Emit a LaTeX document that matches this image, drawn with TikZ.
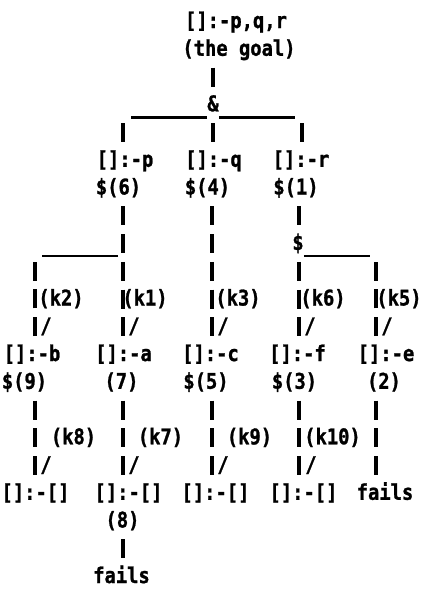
\documentclass[tikz,border=0pt]{standalone}
\usepackage{fontspec}
\usepackage{graphicx}
\newfontfamily\dmfont[BoldFeatures={FakeBold=1.2}]{DejaVu Sans Mono}
% printer-like text: heavy mono, slightly stretched vertically
\newcommand\dm[1]{\scalebox{1}[1.15]{\dmfont\bfseries\fontsize{18.8pt}{20pt}\selectfont #1}}
\tikzset{
  lbl/.style={inner sep=0pt, text height=20.375pt, text depth=7.375pt},
  bar/.style={line width=3.2pt, dash pattern=on 19pt off 8.75pt, dash phase=23.375pt},
  under/.style={line width=2.8pt},
}
\begin{document}
\begin{tikzpicture}[x=1pt,y=-1pt]
\fill[white] (0,0) rectangle (422,600);
\useasboundingbox (0,0) rectangle (422,600);

% columns of the vertical links
\coordinate (colQ) at (213,0);
\coordinate (colP) at (123,0);
\coordinate (colR) at (302,0);
\coordinate (colB) at (35,0);
\coordinate (colA) at (123,0);
\coordinate (colC) at (212,0);
\coordinate (colF) at (299,0);
\coordinate (colE) at (376,0);

% goal
\node[lbl] (goal) at (236,21.5) {\dm{[]:-p,q,r}};
\node[lbl] (goalnote) at (239,49.25) {\dm{(the goal)}};
\node[lbl] (and) at (213,104.75) {\dm{\&}};

% first level subgoals
\node[lbl] (p) at (125,160.25) {\dm{[]:-p}};
\node[lbl] (pmark) at (118.5,188) {\dm{\$(6)}};
\node[lbl] (q) at (213.5,160.25) {\dm{[]:-q}};
\node[lbl] (qmark) at (207.5,188) {\dm{\$(4)}};
\node[lbl] (r) at (301,160.25) {\dm{[]:-r}};
\node[lbl] (rmark) at (296,188) {\dm{\$(1)}};
\coordinate (psplit) at (123,243.5);
\node[lbl] (rsplit) at (298,243.5) {\dm{\$}};

% clause labels
\node[lbl] (k2) at (61,299) {\dm{(k2)}};
\node[lbl] (k1) at (145,299) {\dm{(k1)}};
\node[lbl] (k3) at (238,299) {\dm{(k3)}};
\node[lbl] (k6) at (323,299) {\dm{(k6)}};
\node[lbl] (k5) at (399,299) {\dm{(k5)}};
\node[lbl] (s1) at (46,326.75) {\dm{/}};
\node[lbl] (s2) at (134,326.75) {\dm{/}};
\node[lbl] (s3) at (223,326.75) {\dm{/}};
\node[lbl] (s4) at (310,326.75) {\dm{/}};
\node[lbl] (s5) at (387,326.75) {\dm{/}};

% second level
\node[lbl] (b) at (32,354.5) {\dm{[]:-b}};
\node[lbl] (bmark) at (24.5,382.25) {\dm{\$(9)}};
\node[lbl] (a) at (123.5,354.5) {\dm{[]:-a}};
\node[lbl] (amark) at (121.5,382.25) {\dm{(7)}};
\node[lbl] (c) at (210.5,354.5) {\dm{[]:-c}};
\node[lbl] (cmark) at (206,382.25) {\dm{\$(5)}};
\node[lbl] (f) at (297.5,354.5) {\dm{[]:-f}};
\node[lbl] (fmark) at (294.5,382.25) {\dm{\$(3)}};
\node[lbl] (e) at (386,354.5) {\dm{[]:-e}};
\node[lbl] (emark) at (384,382.25) {\dm{(2)}};

\node[lbl] (k8) at (73.5,437.75) {\dm{(k8)}};
\node[lbl] (k7) at (160.5,437.75) {\dm{(k7)}};
\node[lbl] (k9) at (249.5,437.75) {\dm{(k9)}};
\node[lbl] (k10) at (332.5,437.75) {\dm{(k10)}};
\node[lbl] (t1) at (46,465.5) {\dm{/}};
\node[lbl] (t2) at (134,465.5) {\dm{/}};
\node[lbl] (t3) at (223,465.5) {\dm{/}};
\node[lbl] (t4) at (311,465.5) {\dm{/}};

% leaves
\node[lbl] (bdone) at (35.5,493.25) {\dm{[]:-[]}};
\node[lbl] (adone) at (128.5,493.25) {\dm{[]:-[]}};
\node[lbl] (cdone) at (215.5,493.25) {\dm{[]:-[]}};
\node[lbl] (fdone) at (303.5,493.25) {\dm{[]:-[]}};
\node[lbl] (efail) at (385,493.25) {\dm{fails}};
\node[lbl] (amark2) at (122.5,521) {\dm{(8)}};
\node[lbl] (afail) at (121.5,576.5) {\dm{fails}};

% links from the goal
\draw[bar] (goalnote.south -| and) -- (and.north);
\draw[under] ([yshift=-12.5pt]and.west) -- ++(-76,0);
\draw[under] ([yshift=-12.5pt]and.east) -- ++(76,0);
\draw[bar] (p.north -| colP) -- ++(0,-27.75);
\draw[bar] (and.south -| colQ) -- (q.north -| colQ);
\draw[bar] (r.north -| colR) -- ++(0,-27.75);

% links to the second level
\draw[bar] (pmark.south -| colA) -- (a.north -| colA);
\draw[under] ([yshift=-12.5pt]psplit) ++(-5,0) -- ++(-76,0);
\draw[bar] (b.north -| colB) -- ++(0,-83.25);
\draw[bar] (qmark.south -| colC) -- (c.north -| colC);
\draw[bar] (rmark.south -| colF) -- (rsplit.north -| colF);
\draw[bar] (rsplit.south -| colF) -- (f.north -| colF);
\draw[under] ([yshift=-12.5pt]rsplit.east) -- ++(66,0);
\draw[bar] (e.north -| colE) -- ++(0,-83.25);

% links to the leaves
\draw[bar] (bmark.south -| colB) -- (bdone.north -| colB);
\draw[bar] (amark.south -| colA) -- (adone.north -| colA);
\draw[bar] (cmark.south -| colC) -- (cdone.north -| colC);
\draw[bar] (fmark.south -| colF) -- (fdone.north -| colF);
\draw[bar] (emark.south -| colE) -- (efail.north -| colE);
\draw[bar] (amark2.south -| colA) -- (afail.north -| colA);
\end{tikzpicture}
\end{document}
